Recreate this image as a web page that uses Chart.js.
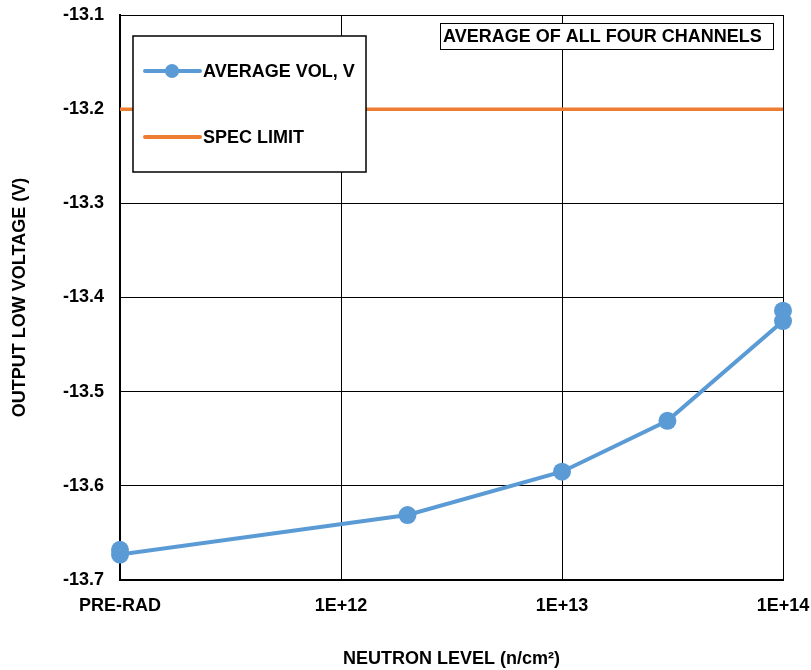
<!DOCTYPE html>
<html>
<head>
<meta charset="utf-8">
<script src="https://cdn.jsdelivr.net/npm/chart.js@4.4.1/dist/chart.umd.min.js"></script>
<style>
  html, body { margin: 0; padding: 0; background: #ffffff; }
  #wrap { width: 811px; height: 670px; position: relative; }
</style>
</head>
<body>
<div id="wrap"><canvas id="c" width="811" height="670"></canvas></div>
<script>
// ---- data ----
const neutronLevels = [1e11, 1e11, 2e12, 1e13, 3e13, 1e14, 1e14];
const averageVol    = [-13.668, -13.673, -13.631, -13.585, -13.531, -13.425, -13.414];
const specLevels    = [1e11, 1e14];
const specLimit     = [-13.2, -13.2];
const xTickValues   = [1e11, 1e12, 1e13, 1e14];
const xTickLabels   = ['PRE-RAD', '1E+12', '1E+13', '1E+14'];
const seriesNames   = ['AVERAGE VOL, V', 'SPEC LIMIT'];
const noteText      = 'AVERAGE OF ALL FOUR CHANNELS';

const BLUE = '#5B9BD5';
const ORANGE = '#ED7D31';
const FONT = '"Liberation Sans", Arial, sans-serif';

const overlay = {
  id: 'overlay',
  afterDraw(chart) {
    const ctx = chart.ctx;
    const a = chart.chartArea;
    ctx.save();
    // legend box
    const lx = a.left + 13, ly = a.top + 21, lw = 233, lh = 136;
    ctx.fillStyle = '#ffffff';
    ctx.fillRect(lx, ly, lw, lh);
    ctx.strokeStyle = '#000000';
    ctx.lineWidth = 1.5;
    ctx.strokeRect(lx, ly, lw, lh);
    const y1 = ly + 35, y2 = ly + 101;
    ctx.lineCap = 'round';
    ctx.lineWidth = 4;
    ctx.strokeStyle = BLUE;
    ctx.beginPath(); ctx.moveTo(lx + 12, y1); ctx.lineTo(lx + 67, y1); ctx.stroke();
    ctx.fillStyle = BLUE;
    ctx.beginPath(); ctx.arc(lx + 39, y1, 7, 0, Math.PI * 2); ctx.fill();
    ctx.strokeStyle = ORANGE;
    ctx.beginPath(); ctx.moveTo(lx + 12, y2); ctx.lineTo(lx + 67, y2); ctx.stroke();
    ctx.fillStyle = '#000000';
    ctx.font = 'bold 18px ' + FONT;
    ctx.textBaseline = 'middle';
    ctx.textAlign = 'left';
    ctx.fillText(seriesNames[0], lx + 70, y1 + 1);
    ctx.fillText(seriesNames[1], lx + 70, y2 + 1);
    // note box
    const nx = a.right - 343, ny = a.top + 8, nw = 333, nh = 26;
    ctx.fillStyle = '#ffffff';
    ctx.fillRect(nx, ny, nw, nh);
    ctx.lineWidth = 1;
    ctx.strokeStyle = '#000000';
    ctx.strokeRect(nx + 0.5, ny + 0.5, nw, nh);
    ctx.fillStyle = '#000000';
    ctx.fillText(noteText, nx + 3, ny + nh / 2 + 1);
    ctx.restore();
  }
};

new Chart(document.getElementById('c'), {
  type: 'scatter',
  data: {
    datasets: [
      {
        label: seriesNames[0],
        data: neutronLevels.map((x, i) => ({ x: x, y: averageVol[i] })),
        showLine: true,
        borderColor: BLUE,
        backgroundColor: BLUE,
        borderWidth: 4,
        pointRadius: 9,
        pointBorderWidth: 0,
        pointBackgroundColor: BLUE,
        clip: false,
        order: 1
      },
      {
        label: seriesNames[1],
        data: specLevels.map((x, i) => ({ x: x, y: specLimit[i] })),
        showLine: true,
        borderColor: ORANGE,
        backgroundColor: ORANGE,
        borderWidth: 3.5,
        pointRadius: 0,
        clip: false,
        order: 2
      }
    ]
  },
  options: {
    responsive: false,
    animation: false,
    layout: { padding: { top: 15, right: 28, left: 0, bottom: 0 } },
    plugins: {
      legend: { display: false },
      tooltip: { enabled: false }
    },
    scales: {
      x: {
        type: 'logarithmic',
        min: 1e11,
        max: 1e14,
        afterBuildTicks: (s) => { s.ticks = xTickValues.map(v => ({ value: v })); },
        afterFit: (s) => { s.height = 90; s.paddingLeft = 0; s.paddingRight = 0; },
        grid: { color: '#000000', lineWidth: 1, drawTicks: false },
        border: { color: '#000000', width: 2 },
        ticks: {
          padding: 15,
          maxRotation: 0,
          autoSkip: false,
          color: '#000000',
          font: { family: FONT, size: 18, weight: 'bold' },
          callback: (v) => { const i = xTickValues.indexOf(v); return i >= 0 ? xTickLabels[i] : ''; }
        },
        title: {
          display: true,
          text: 'NEUTRON LEVEL (n/cm²)',
          color: '#000000',
          font: { family: FONT, size: 18, weight: 'bold' },
          padding: { top: 0, bottom: 0 }
        }
      },
      y: {
        min: -13.7,
        max: -13.1,
        afterFit: (s) => { s.width = 120; s.paddingTop = 0; s.paddingBottom = 0; },
        grid: { color: '#000000', lineWidth: 1, drawTicks: false },
        border: { color: '#000000', width: 2 },
        ticks: {
          stepSize: 0.1,
          padding: 16,
          color: '#000000',
          font: { family: FONT, size: 18, weight: 'bold' },
          callback: (v) => Number(v).toFixed(1)
        },
        title: {
          display: true,
          text: 'OUTPUT LOW VOLTAGE (V)',
          color: '#000000',
          font: { family: FONT, size: 18, weight: 'bold' },
          padding: { top: 9, bottom: 0 }
        }
      }
    }
  },
  plugins: [overlay]
});
</script>
</body>
</html>
